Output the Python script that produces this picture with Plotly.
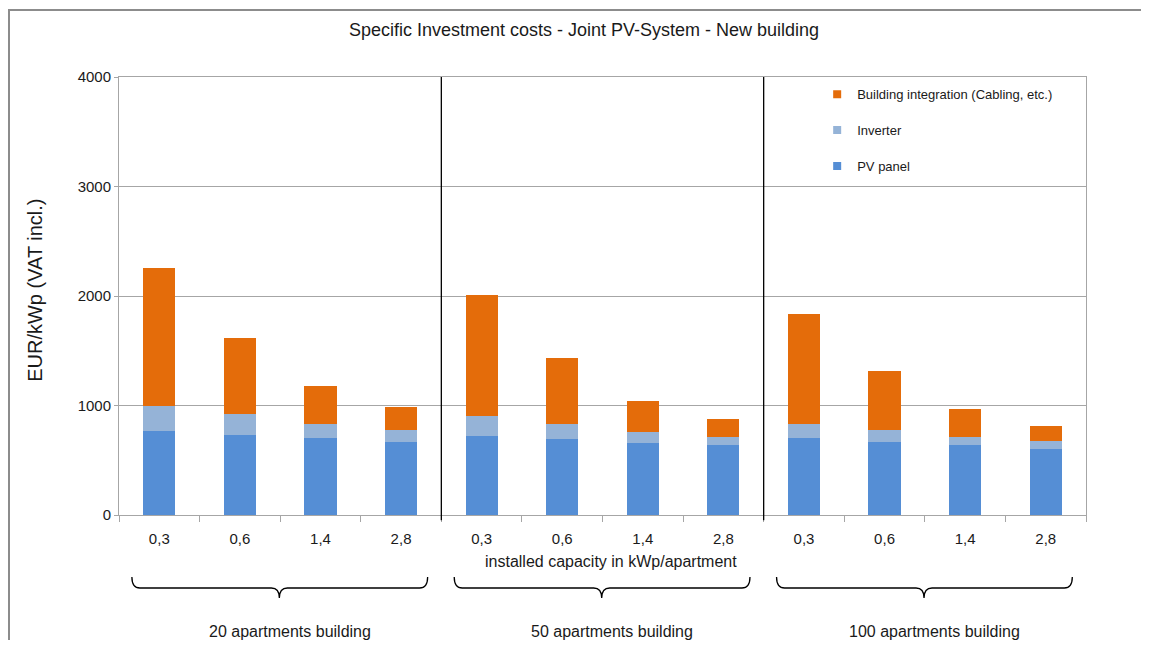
import plotly.graph_objects as go

# ---------------- data ----------------
categories = ["0,3", "0,6", "1,4", "2,8"] * 3
groups = ["20 apartments building", "50 apartments building", "100 apartments building"]
pv_panel = [765, 730, 700, 665, 725, 695, 655, 635, 700, 670, 635, 605]
inverter = [235, 190, 135, 110, 175, 140, 105, 75, 135, 110, 80, 70]
building_integration = [1260, 700, 340, 210, 1105, 600, 285, 170, 1005, 535, 250, 135]
y_ticks = [0, 1000, 2000, 3000, 4000]

FONT = "Liberation Sans, Arial, sans-serif"
TXT = "#1a1a1a"
GRID = "#a6a6a6"

x = list(range(len(categories)))
n = len(categories)

# page has an 8px body margin; keep the figure inside the window
W, H = 1133, 632
ML, MT, PW, PH = 111, 69, 967, 438
MR = W - ML - PW
MB = H - MT - PH

fig = go.Figure()
series = [
    ("PV panel", pv_panel, "#558ED5", 3),
    ("Inverter", inverter, "#95B3D7", 2),
    ("Building integration (Cabling, etc.)", building_integration, "#E46C0A", 1),
]
for name, vals, col, rank in series:
    fig.add_trace(go.Bar(x=x, y=vals, name=name, showlegend=False,
                         marker=dict(color=col, line=dict(width=0))))
    # legend entry with a small square swatch
    fig.add_trace(go.Scatter(x=[None], y=[None], mode="markers", name=name,
                             legendgroup=name, legendrank=rank,
                             marker=dict(symbol="square", size=8, color=col)))

def px(idx):
    # category index -> paper x
    return (idx + 0.5) / n

shapes = []
# group separators
for b in [3.5, 7.5]:
    shapes.append(dict(type="line", xref="paper", yref="paper",
                       x0=px(b), x1=px(b), y0=-0.012, y1=1,
                       line=dict(color="black", width=1.3)))
# outer frame (left and top edges; the others fall outside the picture)
fx0 = (1 - ML) / PW
fy1 = (MT + PH - 2) / PH
shapes.append(dict(type="path", xref="paper", yref="paper",
                   path=f"M {fx0},-0.4 L {fx0},{fy1} L 1.3,{fy1}",
                   line=dict(color="#8c8c8c", width=2), layer="below"))

# braces
y_end, y_mid, y_tip = -0.1416, -0.1667, -0.1895
r = 8 / PW
for g in range(3):
    a = px(g * 4 - 0.34)
    b = px(g * 4 + 3.33)
    c = px(g * 4 + 1.49)
    path = (f"M {a},{y_end} Q {a},{y_mid} {a + r},{y_mid} L {c - r},{y_mid} "
            f"Q {c},{y_mid} {c},{y_tip} Q {c},{y_mid} {c + r},{y_mid} "
            f"L {b - r},{y_mid} Q {b},{y_mid} {b},{y_end}")
    shapes.append(dict(type="path", xref="paper", yref="paper", path=path,
                       line=dict(color="black", width=1.3)))

annotations = []
for g, label in enumerate(groups):
    annotations.append(dict(text=label, xref="paper", yref="paper",
                            x=px(g * 4 + 1.62), y=-0.265, showarrow=False,
                            xanchor="center", yanchor="middle",
                            font=dict(family=FONT, size=16, color=TXT)))
annotations.append(dict(text="installed capacity in kWp/apartment", xref="paper", yref="paper",
                        x=0.509, y=-0.107, showarrow=False, xanchor="center", yanchor="middle",
                        font=dict(family=FONT, size=16, color=TXT)))
annotations.append(dict(text="EUR/kWp (VAT incl.)", xref="paper", yref="paper",
                        x=-0.0869, y=0.514, showarrow=False, textangle=-90,
                        xanchor="center", yanchor="middle",
                        font=dict(family=FONT, size=20, color=TXT)))

fig.update_layout(
    width=W, height=H,
    margin=dict(l=ML, r=MR, t=MT, b=MB),
    paper_bgcolor="white", plot_bgcolor="white",
    barmode="stack", bargap=0.6,
    title=dict(text="Specific Investment costs - Joint PV-System - New building",
               x=(584 - 8) / W, xref="container", y=1 - 22 / H, yref="container",
               xanchor="center", yanchor="middle",
               font=dict(family=FONT, size=18, color=TXT)),
    font=dict(family=FONT, color=TXT),
    legend=dict(x=0.722, y=0.995, xanchor="left", yanchor="top",
                traceorder="grouped", tracegroupgap=16,
                font=dict(family=FONT, size=13, color=TXT),
                bgcolor="rgba(0,0,0,0)", itemwidth=30),
    shapes=shapes,
    annotations=annotations,
)
fig.update_xaxes(range=[-0.5, n - 0.5], tickmode="array", tickvals=x, ticktext=categories,
                 ticks="outside", ticklen=10, tickcolor="rgba(0,0,0,0)",
                 tickfont=dict(family=FONT, size=15, color=TXT),
                 showline=True, linecolor=GRID, linewidth=1, mirror=True,
                 showgrid=False, zeroline=False,
                 minor=dict(tickmode="array", tickvals=[i - 0.5 for i in range(n + 1)],
                            ticks="outside", ticklen=6, tickcolor=GRID, showgrid=False))
fig.update_yaxes(range=[0, 4000], tickmode="array", tickvals=y_ticks,
                 ticks="outside", ticklen=4, tickcolor=GRID,
                 tickfont=dict(family=FONT, size=15, color=TXT),
                 showline=True, linecolor=GRID, linewidth=1, mirror=True,
                 showgrid=True, gridcolor=GRID, gridwidth=1, zeroline=False)

fig.write_html("out.html")
